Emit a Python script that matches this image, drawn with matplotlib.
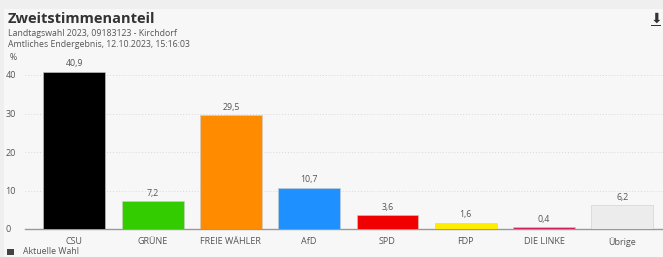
import matplotlib.pyplot as plt
from matplotlib.patches import Rectangle

parties = ['CSU', 'GRÜNE', 'FREIE WÄHLER', 'AfD', 'SPD', 'FDP', 'DIE LINKE', 'Übrige']
shares = [40.9, 7.2, 29.5, 10.7, 3.6, 1.6, 0.4, 6.2]
colors = ['#000000', '#33cc00', '#ff8c00', '#1e90ff', '#f00000', '#ffed00', '#d0225f', '#ececec']
yticks = [0, 10, 20, 30, 40]

plt.rcParams['font.family'] = ['Open Sans', 'DejaVu Sans']
txt = '#555555'

fig = plt.figure(figsize=(6.63, 2.57), dpi=100)
fig.patch.set_facecolor('#efefef')
# inner panel
fig.patches.append(Rectangle((4 / 663, 0), 1, 1 - 9 / 257, transform=fig.transFigure,
                             facecolor='#f7f7f7', edgecolor='none', zorder=-10))

ax = fig.add_axes([25 / 663, 28 / 257, 638 / 663, 161.7 / 257])
ax.set_facecolor('none')
ax.set_zorder(5)

x = range(len(parties))
bars = ax.bar(x, shares, width=0.79, color=colors, edgecolor='#cccccc', linewidth=0.4, zorder=3)
for xi, v in zip(x, shares):
    ax.text(xi, v + 0.9, f'{v:.1f}'.replace('.', ','), ha='center', va='bottom',
            fontsize=6.3, color=txt, clip_on=False)

ax.set_xlim(-0.63, 7.52)
ax.set_ylim(0, 42)
ax.set_yticks(yticks)
ax.set_yticklabels([str(t) for t in yticks])
ax.set_xticks(list(x))
ax.set_xticklabels(parties)
ax.tick_params(axis='both', length=0, labelsize=6.5, labelcolor=txt)
ax.tick_params(axis='x', pad=6)
for t in ax.get_yticklabels():
    t.set_horizontalalignment('left')
ax.yaxis.set_tick_params(pad=14)
for t in yticks[1:]:
    ax.axhline(t, color='#d9d9d9', linestyle=(0, (1, 2)), linewidth=0.7, zorder=1)
for s in ['top', 'right', 'left']:
    ax.spines[s].set_visible(False)
ax.spines['bottom'].set_color('#999999')
ax.spines['bottom'].set_linewidth(1)

fig.text(8 / 663, 1 - 19 / 257, 'Zweitstimmenanteil', fontsize=10.5, fontweight='bold',
         color='#333333', va='center')
fig.text(8 / 663, 1 - 33 / 257, 'Landtagswahl 2023, 09183123 - Kirchdorf', fontsize=6.3,
         color=txt, va='center')
fig.text(8 / 663, 1 - 44.5 / 257, 'Amtliches Endergebnis, 12.10.2023, 15:16:03', fontsize=6.3,
         color=txt, va='center')
fig.text(10 / 663, 1 - 58 / 257, '%', fontsize=6.3, color=txt, va='center')
fig.text(656 / 663, 1 - 19 / 257, '⬇', fontsize=10, color='#333333', ha='center', va='center',
         family=['DejaVu Sans'])
fig.patches.append(Rectangle((651 / 663, 1 - 26 / 257), 10 / 663, 1.3 / 257,
                             transform=fig.transFigure, facecolor='#333333', edgecolor='none'))

fig.patches.append(Rectangle((7 / 663, 1 - 255 / 257), 7 / 663, 6 / 257, transform=fig.transFigure,
                             facecolor='#444444', edgecolor='none'))
fig.text(23 / 663, 1 - 252 / 257, 'Aktuelle Wahl', fontsize=6.3, color=txt, va='center')

fig.savefig('out.png', dpi=100, facecolor=fig.get_facecolor())
